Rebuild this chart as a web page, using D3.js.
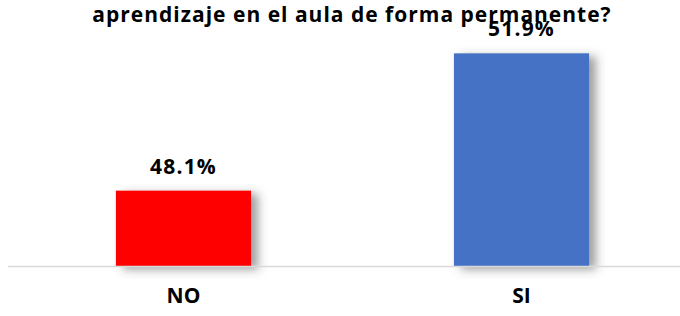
<!DOCTYPE html>
<html>
<head>
<meta charset="utf-8">
<script src="https://cdn.jsdelivr.net/npm/d3@7"></script>
<style>
  html, body { margin: 0; padding: 0; background: #fff; }
  svg { display: block; }
  text { font-family: "Open Sans", "Noto Sans", sans-serif; font-weight: 700; fill: #000; }
</style>
</head>
<body>
<script>
const categories = ["NO", "SI"];
const values = [48.1, 51.9];
const colors = ["#FF0000", "#4472C4"];
const labels = ["48.1%", "51.9%"];
const titleText = "aprendizaje en el aula de forma permanente?";
const yDomain = [46, 53];

const W = 680, H = 316;
const svg = d3.select("body").append("svg").attr("width", W).attr("height", H);

const defs = svg.append("defs");
const f = defs.append("filter").attr("id", "shadow")
  .attr("x", "-20%").attr("y", "-20%").attr("width", "150%").attr("height", "140%");
f.append("feDropShadow").attr("dx", 7).attr("dy", 3).attr("stdDeviation", 5)
  .attr("flood-color", "#404040").attr("flood-opacity", 0.5);

const x = d3.scaleBand().domain(categories).range([14.5, 690.5])
  .paddingInner(0.6).paddingOuter(0.3);
const baseY = 266.5;
const y = d3.scaleLinear().domain(yDomain).range([baseY, 13.6]);

// bars
svg.append("g").selectAll("rect").data(categories).join("rect")
  .attr("x", d => x(d))
  .attr("width", x.bandwidth())
  .attr("y", (d, i) => y(values[i]))
  .attr("height", (d, i) => baseY - y(values[i]))
  .attr("fill", (d, i) => colors[i])
  .attr("filter", "url(#shadow)");

// baseline axis
const xAxis = d3.axisBottom(x).tickSize(0).tickPadding(22);
const ax = svg.append("g").attr("transform", `translate(0,${baseY})`).call(xAxis);
ax.select(".domain").attr("d", `M8,0H${W}`).attr("stroke", "#d9d9d9").attr("stroke-width", 1.5);
ax.selectAll(".tick text").attr("font-size", 21).attr("font-family", null)
  .style("font-family", "'Open Sans', sans-serif").style("font-weight", 700).attr("fill", "#000")
  .attr("dy", "0.71em");

// value labels
svg.append("g").selectAll("text").data(categories).join("text")
  .attr("x", d => x(d) + x.bandwidth() / 2)
  .attr("y", (d, i) => y(values[i]) - 17)
  .attr("text-anchor", "middle")
  .attr("font-size", 21)
  .attr("letter-spacing", 1.2)
  .attr("fill", "#222")
  .text((d, i) => labels[i]);

// title (partially visible)
svg.append("text")
  .attr("x", 352).attr("y", 22)
  .attr("text-anchor", "middle")
  .attr("font-size", 21)
  .attr("letter-spacing", 1)
  .attr("fill", "#111")
  .text(titleText);
</script>
</body>
</html>
